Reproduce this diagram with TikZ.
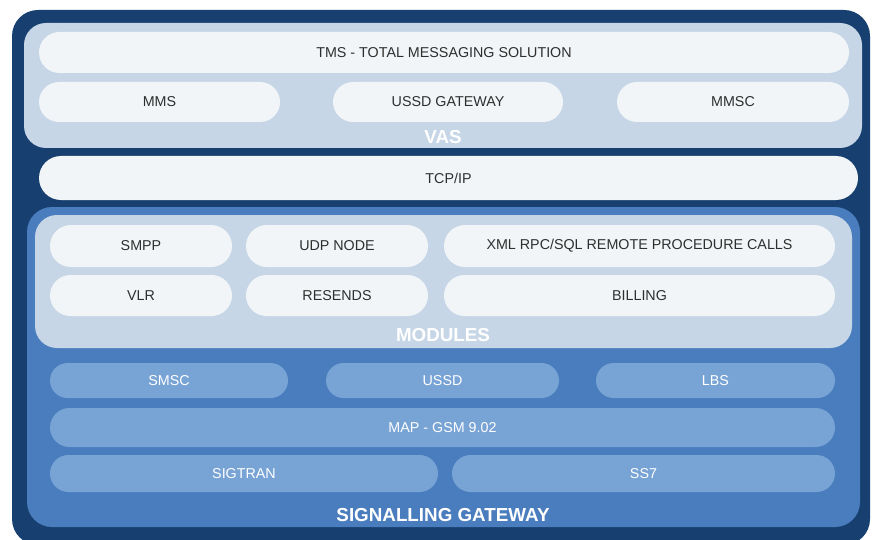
\documentclass[tikz,border=0pt]{standalone}
\usepackage{fontspec}
\setmainfont{Liberation Sans}
\definecolor{navy}{HTML}{173F70}
\definecolor{midblue}{HTML}{4A7DBE}
\definecolor{panel}{HTML}{C6D6E6}
\definecolor{pillwhite}{HTML}{F1F5F7}
\definecolor{pillblue}{HTML}{78A3D5}
\definecolor{txtdark}{HTML}{2E2E2E}
\tikzset{
  box/.style={draw=none, rectangle, inner sep=0pt, outer sep=0pt},
  lightpill/.style={box, fill=pillwhite, text=txtdark, font=\fontsize{14.3}{16}\selectfont},
  bluepill/.style={box, fill=pillblue, text=white, font=\fontsize{14.3}{16}\selectfont},
  title/.style={inner sep=0pt, text=white, font=\fontsize{18.8}{20}\selectfont\bfseries},
}
\begin{document}
\begin{tikzpicture}[x=1pt,y=-1pt]
\useasboundingbox (0,0) rectangle (872,540);
% outer panel
\node[box, fill=navy, minimum width=858, minimum height=535, rounded corners=26] (outer) at (441,277.5) {};
% VAS panel
\node[box, fill=panel, minimum width=838, minimum height=125, rounded corners=22] (vas) at (443,85.5) {};
\node[lightpill, minimum width=810, minimum height=41, rounded corners=20.5] (tms) at (444,52.5) {TMS - TOTAL MESSAGING SOLUTION};
\node[lightpill, minimum width=241, minimum height=40, rounded corners=20] (mms) at (159.5,102) {MMS};
\node[lightpill, minimum width=230, minimum height=40, rounded corners=20] (ussdgw) at (448,102) {USSD GATEWAY};
\node[lightpill, minimum width=232, minimum height=40, rounded corners=20] (mmsc) at (733,102) {MMSC};
\node[title] (vaslabel) at (443,137) {VAS};
% TCP/IP
\node[lightpill, minimum width=819, minimum height=44, rounded corners=22] (tcpip) at (448.5,178) {TCP/IP};
% signalling gateway panel
\node[box, fill=midblue, minimum width=833, minimum height=320, rounded corners=25] (sig) at (443.5,367) {};
% modules panel
\node[box, fill=panel, minimum width=817, minimum height=133, rounded corners=22] (modules) at (443.5,281.5) {};
\node[lightpill, minimum width=182, minimum height=42, rounded corners=21] (smpp) at (141,246) {SMPP};
\node[lightpill, minimum width=182, minimum height=42, rounded corners=21] (udp) at (337,246) {UDP NODE};
\node[lightpill, minimum width=391, minimum height=42, rounded corners=21] (xml) at (639.5,246) {XML RPC/SQL REMOTE PROCEDURE CALLS};
\node[lightpill, minimum width=182, minimum height=41, rounded corners=20.5] (vlr) at (141,295.5) {VLR};
\node[lightpill, minimum width=182, minimum height=41, rounded corners=20.5] (resends) at (337,295.5) {RESENDS};
\node[lightpill, minimum width=391, minimum height=41, rounded corners=20.5] (billing) at (639.5,295.5) {BILLING};
\node[title] (modlabel) at (443,335) {MODULES};
% signalling pills
\node[bluepill, minimum width=238, minimum height=35, rounded corners=17.5] (smsc) at (169,380.5) {SMSC};
\node[bluepill, minimum width=233, minimum height=35, rounded corners=17.5] (ussd) at (442.5,380.5) {USSD};
\node[bluepill, minimum width=239, minimum height=35, rounded corners=17.5] (lbs) at (715.5,380.5) {LBS};
\node[bluepill, minimum width=785, minimum height=39, rounded corners=19.5] (map) at (442.5,427.5) {MAP - GSM 9.02};
\node[bluepill, minimum width=388, minimum height=37, rounded corners=18.5] (sigtran) at (244,473.5) {SIGTRAN};
\node[bluepill, minimum width=383, minimum height=37, rounded corners=18.5] (ss7) at (643.5,473.5) {SS7};
\node[title] (siglabel) at (443,515) {SIGNALLING GATEWAY};
\end{tikzpicture}
\end{document}
